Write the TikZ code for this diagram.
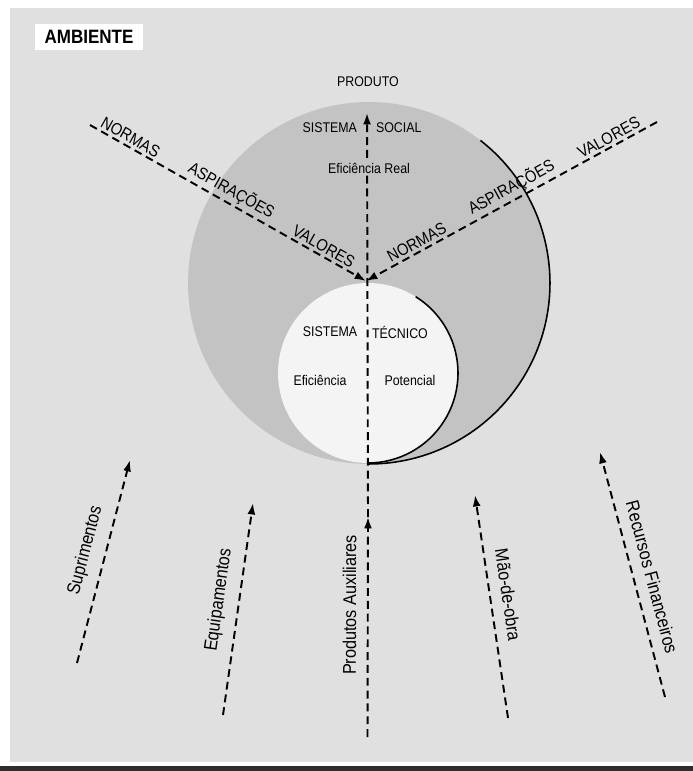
\documentclass[tikz,border=0pt]{standalone}
\usepackage{fontspec}
\setmainfont{Liberation Sans}[FakeStretch=0.88]
\usetikzlibrary{arrows.meta}
\definecolor{paperGray}{RGB}{224,224,224}
\definecolor{socialGray}{RGB}{195,195,195}
\definecolor{techWhite}{RGB}{244,244,244}
\definecolor{barGray}{RGB}{45,45,45}

\begin{document}
\begin{tikzpicture}[x=0.02cm,y=0.02cm,
  flow/.style={line width=1.1pt,dash pattern=on 4.5pt off 2.8pt,-{Latex[length=6.5pt,width=4.5pt]}},
  rim/.style={line width=0.9pt},
  value/.style={sloped,above=0.5pt,inner sep=1pt,font=\fontsize{9.5}{11}\selectfont},
  input/.style={sloped,above=4pt,inner sep=2pt,font=\fontsize{10.5}{12}\selectfont},
  inner/.style={inner sep=1pt,font=\fontsize{8}{9.5}\selectfont}]
\useasboundingbox (0,0) rectangle (693,-771);
\fill[white] (0,0) rectangle (693,-771);
\fill[paperGray] (10,-8) rectangle (693,-762);
\fill[barGray] (0,-766) rectangle (693,-771);

\coordinate (social) at (369,-283);
\coordinate (tecnico) at (368,-373);
\fill[socialGray] (social) circle[radius=3.62cm];
\fill[techWhite] (tecnico) circle[radius=1.8cm];
\draw[rim] (social) ++(52:3.62cm) arc[start angle=52,end angle=-90,radius=3.62cm];
\draw[rim] (tecnico) ++(58:1.8cm) arc[start angle=58,end angle=-90,radius=1.8cm];

\coordinate (meet) at (366,-281);
\coordinate (leftEnd) at (90,-125);
\coordinate (rightEnd) at (657,-122);
\coordinate (auxBase) at (367.5,-737);
\coordinate (auxTip) at (368,-517);
\coordinate (prodTip) at (367,-113);
\coordinate (supBase) at (77,-663);
\coordinate (supTip) at (130,-460);
\coordinate (equBase) at (223,-715);
\coordinate (equTip) at (253,-503);
\coordinate (maoBase) at (508,-718);
\coordinate (maoTip) at (475,-495);
\coordinate (recBase) at (665,-697);
\coordinate (recTip) at (600,-452);

\draw[flow] (leftEnd) -- (meet)
  node[value,pos=.13] (normasL) {NORMAS}
  node[value,pos=.49] (aspiracoesL) {ASPIRAÇÕES}
  node[value,pos=.83] (valoresL) {VALORES};
\draw[flow] (rightEnd) -- (meet)
  node[value,pos=.15] (valoresR) {VALORES}
  node[value,pos=.48] (aspiracoesR) {ASPIRAÇÕES}
  node[value,pos=.81] (normasR) {NORMAS};

\draw[flow] (auxBase) -- (auxTip) node[input,pos=.6] (auxiliares) {Produtos Auxiliares};
\draw[flow] (auxTip) -- (prodTip);
\draw[flow] (supBase) -- (supTip) node[input,pos=.53] (suprimentos) {Suprimentos};
\draw[flow] (equBase) -- (equTip) node[input,pos=.53] (equipamentos) {Equipamentos};
\draw[flow] (maoBase) -- (maoTip) node[input,pos=.54] (maodeobra) {Mão-de-obra};
\draw[flow] (recBase) -- (recTip) node[input,pos=.47] (recursos) {Recursos Financeiros};

\node[inner] (produto) at (368,-82) {PRODUTO};
\node[inner,anchor=east] (sistemaS) at (359,-128) {SISTEMA};
\node[inner,anchor=west] (socialS) at (374,-128) {SOCIAL};
\node[inner,fill=socialGray] (real) at (369,-168) {Eficiência Real};
\node[inner] (sistemaT) at (330,-332) {SISTEMA};
\node[inner] (tecnicoT) at (400,-332) {TÉCNICO};
\node[inner] (eficiencia) at (320,-380) {Eficiência};
\node[inner] (potencial) at (410,-380) {Potencial};

\node[fill=white,minimum width=2.16cm,minimum height=0.5cm,font=\bfseries\fontsize{11}{13}\selectfont] (ambiente) at (89,-37) {AMBIENTE};
\end{tikzpicture}
\end{document}
